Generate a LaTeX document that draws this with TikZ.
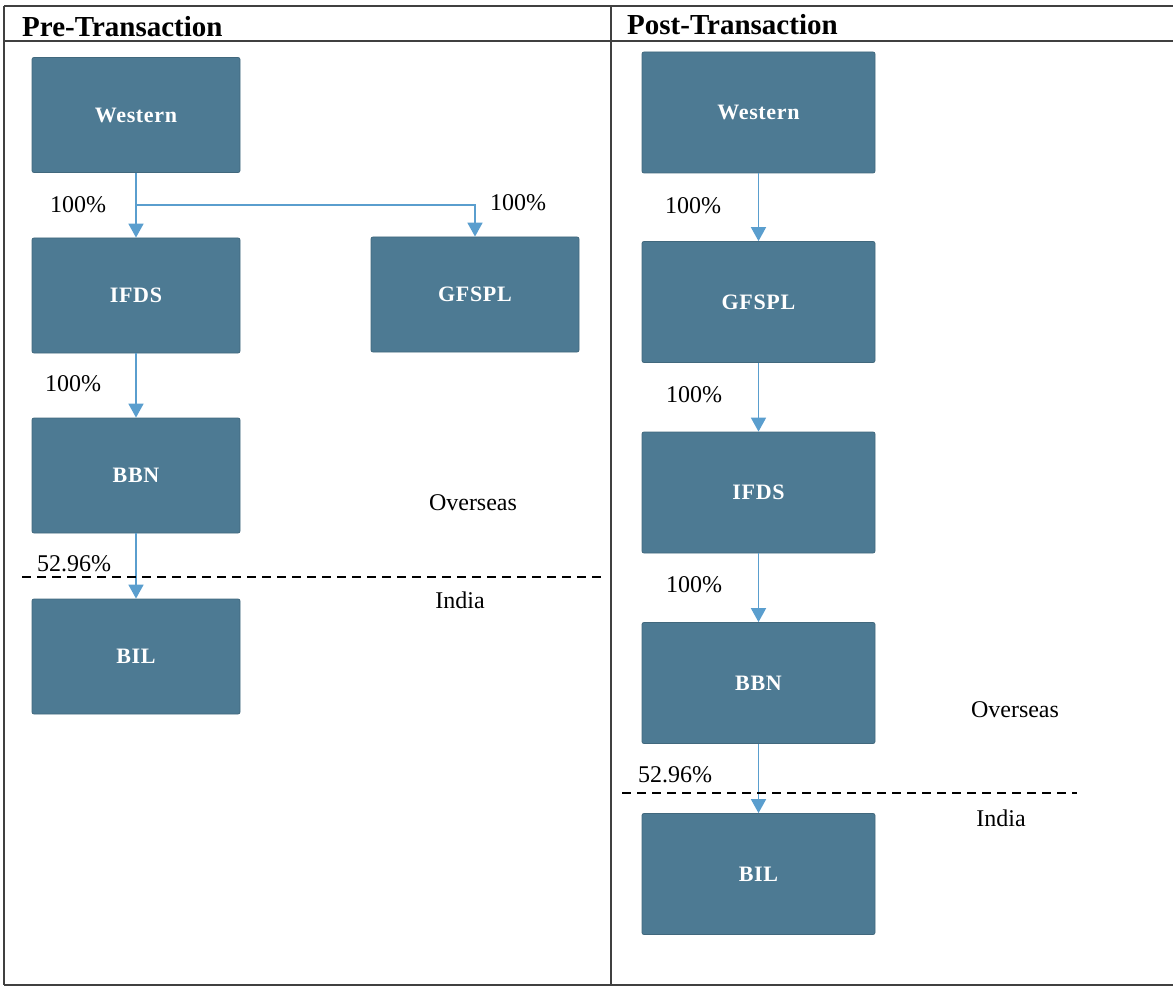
\documentclass[tikz,border=0pt]{standalone}
\usepackage{fontspec}
\setmainfont{Liberation Serif}
\newfontfamily\boxfont[LetterSpace=3]{Liberation Serif}
\usetikzlibrary{arrows.meta}
\definecolor{boxblue}{RGB}{77,122,147}
\definecolor{arrowblue}{RGB}{90,158,206}
\tikzset{
  entity/.style={draw=boxblue!85!black, line width=0.8pt, fill=boxblue, rounded corners=2pt,
    font=\boxfont\bfseries\fontsize{22}{25}\selectfont, text=white, inner sep=0pt},
  preent/.style={entity, minimum width=208pt, minimum height=115pt},
  postent/.style={entity, minimum width=233pt, minimum height=121pt},
  link/.style={draw=arrowblue, line width=1.8pt, -{Triangle[width=15pt,length=14pt]}},
  pct/.style={font=\fontsize{24}{28}\selectfont, inner sep=0pt},
  hdr/.style={font=\bfseries\fontsize{29}{32}\selectfont, inner sep=0pt, anchor=west},
  border/.style={draw=black!75, line width=1.3pt},
  boundary/.style={draw=black, line width=1.8pt, dash pattern=on 9pt off 6pt}
}
\begin{document}
\begin{tikzpicture}[x=1pt,y=-1pt]
\useasboundingbox (0,0) rectangle (1173,987);
% table frame
\coordinate (tl) at (4,6);
\coordinate (tr) at (1173,6);
\coordinate (hl) at (4,41);
\coordinate (hr) at (1173,41);
\coordinate (bl) at (4,985);
\coordinate (br) at (1173,985);
\coordinate (mt) at (611,6);
\coordinate (mb) at (611,985);
\draw[border] (tl) -- (tr);
\draw[border] (hl) -- (hr);
\draw[border] (bl) -- (br);
\draw[border] (tl) -- (bl);
\draw[border] (mt) -- (mb);
\node[hdr] (hpre) at (22,27) {Pre-Transaction};
\node[hdr] (hpost) at (627,25) {Post-Transaction};

% Pre-Transaction
\node[preent] (pW) at (136,115) {Western};
\node[preent] (pI) at (136,295.5) {IFDS};
\node[preent] (pG) at (475,294.5) {GFSPL};
\node[preent] (pB) at (136,475.5) {BBN};
\node[preent] (pL) at (136,656.5) {BIL};
\coordinate (pbr) at (136,205);
\draw[link] (pW) -- (pI);
\draw[link] (pbr) -| (pG.north);
\draw[link] (pI) -- (pB);
\draw[link] (pB) -- (pL);
\coordinate (pd1) at (22,577);
\coordinate (pd2) at (605,577);
\draw[boundary] (pd1) -- (pd2);
\node[pct] (pp1) at (78,205) {100\%};
\node[pct] (pp2) at (518,203) {100\%};
\node[pct] (pp3) at (73,384) {100\%};
\node[pct] (pp4) at (74,564) {52.96\%};
\node[pct] (pov) at (473,503) {Overseas};
\node[pct] (pin) at (460,600) {India};

% Post-Transaction
\node[postent] (qW) at (758.5,112.5) {Western};
\node[postent] (qG) at (758.5,302) {GFSPL};
\node[postent] (qI) at (758.5,492.5) {IFDS};
\node[postent] (qB) at (758.5,683) {BBN};
\node[postent] (qL) at (758.5,874) {BIL};
\draw[link] (qW) -- (qG);
\draw[link] (qG) -- (qI);
\draw[link] (qI) -- (qB);
\draw[link] (qB) -- (qL);
\coordinate (qd1) at (622,793);
\coordinate (qd2) at (1077,793);
\draw[boundary] (qd1) -- (qd2);
\node[pct] (qp1) at (693,206) {100\%};
\node[pct] (qp2) at (694,395) {100\%};
\node[pct] (qp3) at (694,585) {100\%};
\node[pct] (qp4) at (675,775) {52.96\%};
\node[pct] (qov) at (1015,710) {Overseas};
\node[pct] (qin) at (1001,818) {India};
\end{tikzpicture}
\end{document}
